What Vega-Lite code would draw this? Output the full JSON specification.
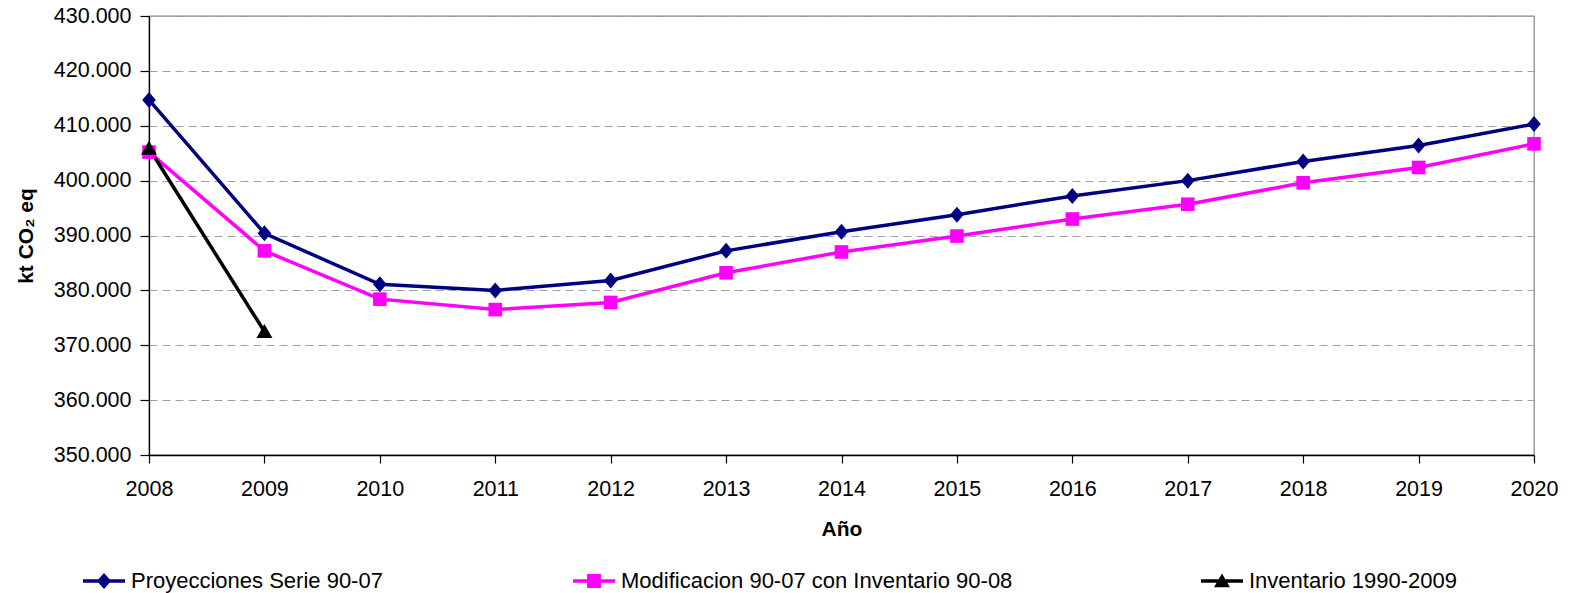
{
  "$schema": "https://vega.github.io/schema/vega-lite/v6.json",
  "width": 1385,
  "height": 439,
  "autosize": "none",
  "padding": {"left": 149, "top": 16, "right": 37, "bottom": 138},
  "background": "white",
  "config": {
    "font": "Liberation Sans",
    "view": {"stroke": "#8c8c8c", "strokeWidth": 1.3},
    "axis": {
      "domainColor": "black",
      "domainWidth": 1.3,
      "tickColor": "black",
      "tickWidth": 1.2,
      "labelFont": "Liberation Sans",
      "labelFontSize": 21.5,
      "labelColor": "black",
      "titleFont": "Liberation Sans",
      "titleFontSize": 21,
      "titleFontWeight": "bold",
      "titleColor": "black"
    },
    "legend": {
      "labelFont": "Liberation Sans",
      "labelFontSize": 22,
      "labelColor": "black",
      "labelLimit": 1000,
      "padding": 0
    }
  },
  "data": {
    "values": [
      {"year": 2008, "series": "Proyecciones Serie 90-07", "value": 414700},
      {"year": 2009, "series": "Proyecciones Serie 90-07", "value": 390400},
      {"year": 2010, "series": "Proyecciones Serie 90-07", "value": 381100},
      {"year": 2011, "series": "Proyecciones Serie 90-07", "value": 380000},
      {"year": 2012, "series": "Proyecciones Serie 90-07", "value": 381800},
      {"year": 2013, "series": "Proyecciones Serie 90-07", "value": 387200},
      {"year": 2014, "series": "Proyecciones Serie 90-07", "value": 390700},
      {"year": 2015, "series": "Proyecciones Serie 90-07", "value": 393800},
      {"year": 2016, "series": "Proyecciones Serie 90-07", "value": 397200},
      {"year": 2017, "series": "Proyecciones Serie 90-07", "value": 400000},
      {"year": 2018, "series": "Proyecciones Serie 90-07", "value": 403500},
      {"year": 2019, "series": "Proyecciones Serie 90-07", "value": 406400},
      {"year": 2020, "series": "Proyecciones Serie 90-07", "value": 410300},
      {"year": 2008, "series": "Modificacion 90-07 con Inventario 90-08", "value": 405200},
      {"year": 2009, "series": "Modificacion 90-07 con Inventario 90-08", "value": 387200},
      {"year": 2010, "series": "Modificacion 90-07 con Inventario 90-08", "value": 378400},
      {"year": 2011, "series": "Modificacion 90-07 con Inventario 90-08", "value": 376500},
      {"year": 2012, "series": "Modificacion 90-07 con Inventario 90-08", "value": 377800},
      {"year": 2013, "series": "Modificacion 90-07 con Inventario 90-08", "value": 383200},
      {"year": 2014, "series": "Modificacion 90-07 con Inventario 90-08", "value": 387000},
      {"year": 2015, "series": "Modificacion 90-07 con Inventario 90-08", "value": 389900},
      {"year": 2016, "series": "Modificacion 90-07 con Inventario 90-08", "value": 393000},
      {"year": 2017, "series": "Modificacion 90-07 con Inventario 90-08", "value": 395700},
      {"year": 2018, "series": "Modificacion 90-07 con Inventario 90-08", "value": 399600},
      {"year": 2019, "series": "Modificacion 90-07 con Inventario 90-08", "value": 402400},
      {"year": 2020, "series": "Modificacion 90-07 con Inventario 90-08", "value": 406700},
      {"year": 2008, "series": "Inventario 1990-2009", "value": 405900},
      {"year": 2009, "series": "Inventario 1990-2009", "value": 372500}
    ]
  },
  "encoding": {
    "x": {
      "field": "year",
      "type": "quantitative",
      "scale": {"domain": [2008, 2020], "nice": false, "zero": false},
      "axis": {
        "values": [2008, 2009, 2010, 2011, 2012, 2013, 2014, 2015, 2016, 2017, 2018, 2019, 2020],
        "format": "d",
        "grid": false,
        "tickSize": 8,
        "labelPadding": 15,
        "labelFlush": false,
        "labelOverlap": false,
        "title": "Año",
        "titlePadding": 19
      }
    },
    "y": {
      "field": "value",
      "type": "quantitative",
      "scale": {"domain": [350000, 430000], "nice": false, "zero": false},
      "axis": {
        "values": [350000, 360000, 370000, 380000, 390000, 400000, 410000, 420000, 430000],
        "labelExpr": "replace(format(datum.value, ','), ',', '.')",
        "grid": true,
        "gridColor": "#a0a0a0",
        "gridDash": [8, 5],
        "gridWidth": 1.2,
        "tickSize": 9,
        "labelPadding": 9,
        "labelFlush": false,
        "title": "kt CO₂ eq",
        "titlePadding": 17
      }
    }
  },
  "layer": [
    {
      "mark": {"type": "line", "strokeWidth": 3.5},
      "encoding": {
        "color": {
          "field": "series",
          "type": "nominal",
          "scale": {
            "domain": ["Proyecciones Serie 90-07", "Modificacion 90-07 con Inventario 90-08", "Inventario 1990-2009"],
            "range": ["#000080", "#ff00ff", "#000000"]
          },
          "legend": null
        }
      }
    },
    {
      "mark": {"type": "point", "filled": true, "opacity": 1, "size": 256},
      "encoding": {
        "color": {
          "field": "series",
          "type": "nominal",
          "scale": {
            "domain": ["Proyecciones Serie 90-07", "Modificacion 90-07 con Inventario 90-08", "Inventario 1990-2009"],
            "range": ["#000080", "#ff00ff", "#000000"]
          },
          "legend": null
        },
        "shape": {
          "field": "series",
          "type": "nominal",
          "scale": {
            "domain": ["Proyecciones Serie 90-07", "Modificacion 90-07 con Inventario 90-08", "Inventario 1990-2009"],
            "range": ["M0,-1 L0.85,0 L0,1 L-0.85,0 Z", "M-0.85,-0.85 L0.85,-0.85 L0.85,0.85 L-0.85,0.85 Z", "M0,-0.95 L1,0.8 L-1,0.8 Z"]
          },
          "legend": null
        }
      }
    },
    {
      "transform": [{"filter": {"field": "series", "equal": "Proyecciones Serie 90-07"}}],
      "mark": {"type": "point", "filled": true, "opacity": 0},
      "encoding": {
        "color": {
          "field": "series", "type": "nominal",
          "scale": {"domain": ["Proyecciones Serie 90-07"], "range": ["#000080"]},
          "legend": {"orient": "none", "legendX": -66, "legendY": 544, "title": null, "symbolSize": 1764, "symbolOpacity": 1, "symbolStrokeWidth": 0, "labelOffset": 6, "labelLimit": 1000}
        },
        "shape": {
          "field": "series", "type": "nominal",
          "scale": {"domain": ["Proyecciones Serie 90-07"], "range": ["M-1,-0.085 L1,-0.085 L1,0.085 L-1,0.085 Z M0,-0.38 L0.34,0 L0,0.38 L-0.34,0 Z"]},
          "legend": {"orient": "none", "legendX": -66, "legendY": 544, "title": null, "symbolSize": 1764, "symbolOpacity": 1, "symbolStrokeWidth": 0, "labelOffset": 6, "labelLimit": 1000}
        }
      }
    },
    {
      "transform": [{"filter": {"field": "series", "equal": "Modificacion 90-07 con Inventario 90-08"}}],
      "mark": {"type": "point", "filled": true, "opacity": 0},
      "encoding": {
        "color": {
          "field": "series", "type": "nominal",
          "scale": {"domain": ["Modificacion 90-07 con Inventario 90-08"], "range": ["#ff00ff"]},
          "legend": {"orient": "none", "legendX": 424, "legendY": 544, "title": null, "symbolSize": 1764, "symbolOpacity": 1, "symbolStrokeWidth": 0, "labelOffset": 6, "labelLimit": 1000}
        },
        "shape": {
          "field": "series", "type": "nominal",
          "scale": {"domain": ["Modificacion 90-07 con Inventario 90-08"], "range": ["M-1,-0.085 L1,-0.085 L1,0.085 L-1,0.085 Z M-0.33,-0.33 L0.33,-0.33 L0.33,0.33 L-0.33,0.33 Z"]},
          "legend": {"orient": "none", "legendX": 424, "legendY": 544, "title": null, "symbolSize": 1764, "symbolOpacity": 1, "symbolStrokeWidth": 0, "labelOffset": 6, "labelLimit": 1000}
        }
      }
    },
    {
      "transform": [{"filter": {"field": "series", "equal": "Inventario 1990-2009"}}],
      "mark": {"type": "point", "filled": true, "opacity": 0},
      "encoding": {
        "color": {
          "field": "series", "type": "nominal",
          "scale": {"domain": ["Inventario 1990-2009"], "range": ["#000000"]},
          "legend": {"orient": "none", "legendX": 1052, "legendY": 544, "title": null, "symbolSize": 1764, "symbolOpacity": 1, "symbolStrokeWidth": 0, "labelOffset": 6, "labelLimit": 1000}
        },
        "shape": {
          "field": "series", "type": "nominal",
          "scale": {"domain": ["Inventario 1990-2009"], "range": ["M-1,-0.085 L1,-0.085 L1,0.085 L-1,0.085 Z M0,-0.36 L0.38,0.3 L-0.38,0.3 Z"]},
          "legend": {"orient": "none", "legendX": 1052, "legendY": 544, "title": null, "symbolSize": 1764, "symbolOpacity": 1, "symbolStrokeWidth": 0, "labelOffset": 6, "labelLimit": 1000}
        }
      }
    }
  ],
  "resolve": {
    "scale": {"color": "independent", "shape": "independent"},
    "legend": {"color": "independent", "shape": "independent"}
  }
}
